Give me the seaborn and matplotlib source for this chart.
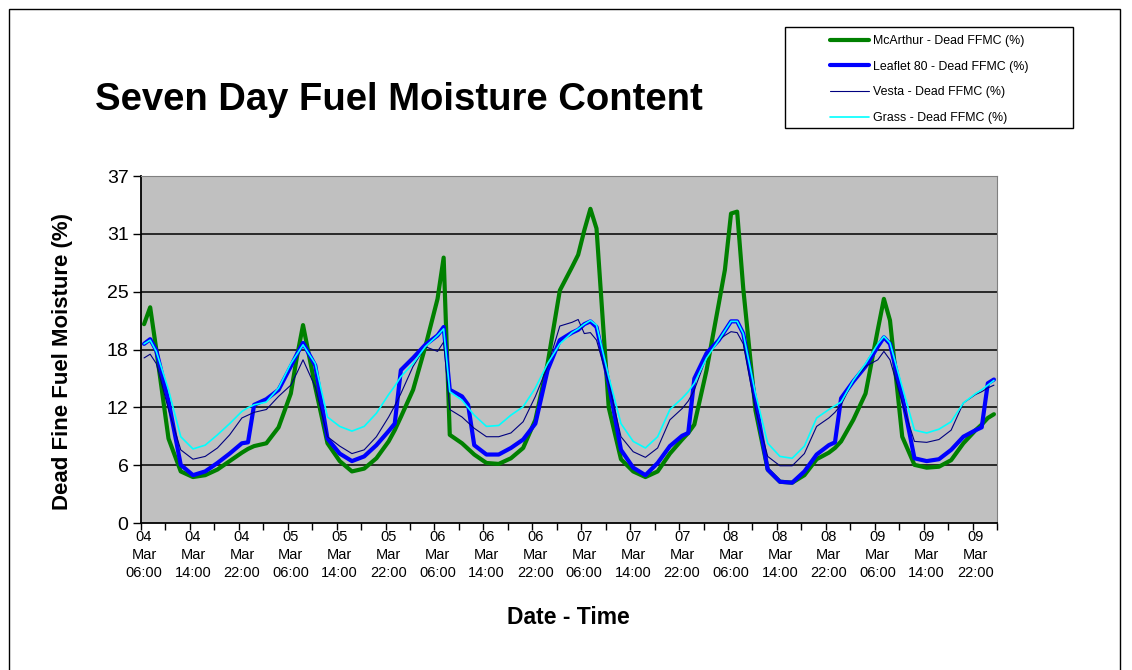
import matplotlib
matplotlib.use("Agg")
import matplotlib.pyplot as plt
from matplotlib.patches import Rectangle
import numpy as np
import pandas as pd
import seaborn as sns

# hours since 04 Mar 06:00 (hourly category axis, 140 categories)
hours = [0, 1, 2, 4, 6, 8, 10, 12, 14, 16, 17, 18, 20, 22, 24, 25, 26, 28, 30, 32, 34,
         36, 38, 40, 41, 42, 44, 46, 48, 49, 50, 52, 53, 54, 56, 58, 60, 62, 64, 66, 68,
         70, 71, 72, 73, 74, 76, 78, 80, 82, 84, 86, 88, 89, 90, 92, 94, 95, 96, 97, 98,
         100, 102, 104, 106, 108, 110, 112, 113, 114, 116, 118, 120, 121, 122, 124, 126,
         128, 130, 132, 134, 136, 137, 138, 139]

mcarthur = [21.2, 23.0, 18.5, 9.0, 5.5, 4.9, 5.1, 5.7, 6.6, 7.5, 7.9, 8.2, 8.5, 10.2, 13.8, 17.7, 21.1, 14.5, 8.5, 6.6, 5.5,
            5.8, 6.9, 8.7, 9.9, 11.3, 14.2, 18.8, 23.9, 28.3, 9.4, 8.5, 7.9, 7.3, 6.4, 6.3, 6.9, 8.0, 11.0, 17.0, 24.8,
            27.3, 28.6, 31.2, 33.5, 31.4, 12.3, 6.8, 5.5, 4.9, 5.5, 7.4, 8.9, 9.6, 10.5, 16.3, 23.4, 27.0, 33.0, 33.2, 25.0,
            12.0, 5.7, 4.4, 4.3, 5.1, 6.8, 7.5, 8.0, 8.7, 11.0, 13.8, 20.6, 23.9, 21.6, 9.2, 6.2,
            5.9, 6.0, 6.7, 8.5, 9.9, 10.5, 11.2, 11.6]

leaflet80 = [19.1, 19.6, 18.4, 13.0, 6.2, 5.1, 5.5, 6.4, 7.4, 8.5, 8.6, 12.6, 13.2, 14.2, 16.7, 18.0, 19.2, 16.8, 9.0, 7.4, 6.6,
             7.1, 8.3, 9.8, 10.6, 16.3, 17.6, 19.0, 20.0, 20.9, 14.2, 13.5, 12.6, 8.3, 7.3, 7.3, 8.0, 8.9, 10.6, 16.3, 19.5,
             20.3, 20.6, 21.2, 21.5, 20.9, 14.9, 7.8, 5.9, 5.1, 6.4, 8.2, 9.3, 9.6, 15.4, 18.1, 19.5, 20.5, 21.5, 21.5, 20.2,
             13.0, 5.7, 4.4, 4.3, 5.5, 7.3, 8.3, 8.6, 13.3, 15.1, 16.7, 18.8, 19.8, 19.1, 13.5, 6.9,
             6.6, 6.8, 7.8, 9.2, 9.9, 10.2, 14.9, 15.3]

vesta = [17.6, 18.0, 17.0, 12.1, 7.8, 6.8, 7.1, 8.0, 9.4, 11.2, 11.5, 11.8, 12.1, 13.5, 14.7, 16.0, 17.4, 14.5, 9.2, 8.2, 7.4,
         7.8, 9.2, 11.3, 12.5, 13.8, 16.7, 18.8, 18.3, 19.3, 12.1, 11.3, 10.7, 10.1, 9.2, 9.2, 9.6, 10.8, 13.5, 16.7, 21.0,
         21.4, 21.7, 20.2, 20.3, 19.5, 14.9, 9.2, 7.6, 7.0, 8.0, 11.0, 12.2, 13.0, 14.2, 17.7, 19.5, 20.0, 20.4, 20.3, 19.1,
         12.1, 7.1, 6.1, 6.1, 7.4, 10.3, 11.2, 11.8, 12.6, 15.2, 16.7, 17.4, 18.3, 17.4, 12.8, 8.7,
         8.6, 8.9, 9.9, 12.8, 13.7, 14.0, 14.4, 14.7]

grass = [19.1, 19.5, 18.3, 14.2, 9.2, 7.9, 8.3, 9.4, 10.6, 11.9, 12.3, 12.6, 12.9, 14.4, 17.0, 18.0, 19.0, 17.0, 11.3, 10.3, 9.8,
         10.3, 11.7, 13.7, 14.6, 15.6, 17.0, 18.8, 20.0, 20.7, 14.0, 13.1, 12.3, 11.5, 10.3, 10.4, 11.5, 12.4, 14.4, 17.0, 19.1,
         20.3, 20.7, 21.2, 21.6, 21.1, 15.6, 10.6, 8.7, 8.0, 9.2, 12.1, 13.3, 14.0, 14.9, 17.6, 19.5, 20.5, 21.5, 21.5, 20.2,
         13.8, 8.5, 7.1, 6.9, 8.2, 11.2, 12.1, 12.5, 12.9, 15.2, 17.0, 19.1, 19.9, 19.2, 14.5, 9.9,
         9.6, 10.0, 10.8, 12.8, 13.8, 14.2, 14.7, 15.2]

series_names = ["McArthur - Dead FFMC (%)", "Leaflet 80 - Dead FFMC (%)",
                "Vesta - Dead FFMC (%)", "Grass - Dead FFMC (%)"]
colors = ["#008000", "#0000FF", "#000080", "#00FFFF"]
widths = [3.0, 3.0, 0.8, 1.2]

start = pd.Timestamp("2009-03-04 06:00")
n_hours = 140
label_hours = list(range(0, n_hours, 8))
tick_labels = [(start + pd.Timedelta(hours=h)).strftime("%d\n%b\n%H:%M") for h in label_hours]
y_ticks = np.linspace(0, 37, 7)

df = pd.DataFrame({
    "hour": hours * 4,
    "value": mcarthur + leaflet80 + vesta + grass,
    "series": np.repeat(series_names, len(hours)),
})

sns.set_style("white")
plt.rcParams["font.family"] = ["Liberation Sans", "DejaVu Sans"]
plt.rcParams["text.color"] = "black"
plt.rcParams["xtick.color"] = "black"
plt.rcParams["ytick.color"] = "black"
plt.rcParams["axes.labelcolor"] = "black"

W, H = 1132, 670
fig = plt.figure(figsize=(W / 100, H / 100), dpi=100)
ax = fig.add_axes([141 / W, 1 - 523 / H, (997 - 141) / W, (523 - 176) / H])

sns.lineplot(data=df, x="hour", y="value", hue="series", size="series",
             hue_order=series_names, size_order=series_names,
             palette=dict(zip(series_names, colors)),
             sizes=dict(zip(series_names, widths)),
             errorbar=None, legend=False, ax=ax)
lines = list(ax.get_lines())
for ln in lines:
    ln.set_solid_joinstyle("round")
    ln.set_zorder(3)

ax.set_facecolor("#C0C0C0")
ax.set_xlim(-0.5, n_hours - 0.5)
ax.set_ylim(0, 37)

# gridlines
for v in y_ticks[1:-1]:
    ax.axhline(v, color="black", lw=1.1, zorder=1)

ax.set_xticks(label_hours)
ax.set_xticklabels(tick_labels, fontsize=10.5, linespacing=1.35, color="black")
ax.set_xticks(np.arange(-0.5, n_hours, 4), minor=True)
ax.tick_params(axis="x", which="major", length=0, pad=5)
ax.tick_params(axis="x", which="minor", length=5, width=1, color="black", direction="out", bottom=True)
ax.set_yticks(y_ticks)
ax.set_yticklabels([f"{v:.0f}" for v in y_ticks], fontsize=14, color="black")
ax.tick_params(axis="y", length=6, width=1, color="black", direction="out", left=True, pad=3)

for side in ["left", "bottom"]:
    ax.spines[side].set_color("black")
    ax.spines[side].set_linewidth(1.3)
for side in ["top", "right"]:
    ax.spines[side].set_color("#808080")
    ax.spines[side].set_linewidth(0.8)
ax.set_xlabel("")
ax.set_ylabel("")

fig.text(95 / W, 1 - 100 / H, "Seven Day Fuel Moisture Content", fontsize=27.5,
         fontweight="bold", ha="left", va="center", color="black")
fig.text(63 / W, 1 - 362 / H, "Dead Fine Fuel Moisture (%)", fontsize=16,
         fontweight="bold", rotation=90, ha="center", va="center", color="black")
fig.text(568 / W, 1 - 617 / H, "Date - Time", fontsize=16.5,
         fontweight="bold", ha="center", va="center", color="black")

# legend box
fig.add_artist(Rectangle((785 / W, 1 - 128 / H), (1073 - 785) / W, (128 - 27) / H,
                         transform=fig.transFigure, fill=False, ec="black", lw=1))
fig.legend(lines, series_names, loc="center", bbox_to_anchor=(929 / W, 1 - 79.5 / H),
           frameon=False, fontsize=8.9, handlelength=3.2, handletextpad=0.25,
           labelspacing=1.1, labelcolor="black")

# page border
fig.add_artist(Rectangle((8.5 / W, -0.1), (1120 - 8.5) / W, 1.1 - 8.5 / H,
                         transform=fig.transFigure, fill=False, ec="black", lw=1, clip_on=False))

fig.savefig("out.png", dpi=100)
